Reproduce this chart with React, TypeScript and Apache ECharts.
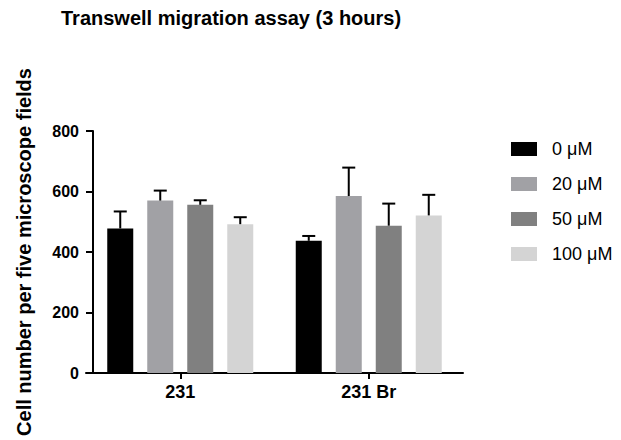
import React, { useEffect, useRef } from "react";
import * as echarts from "echarts";

const categories = ["231", "231 Br"];
const seriesNames = ["0 \u03bcM", "20 \u03bcM", "50 \u03bcM", "100 \u03bcM"];
const colors = ["#000000", "#a1a1a5", "#808080", "#d4d4d4"];
const means0 = [478, 437];
const means20 = [570, 585];
const means50 = [556, 487];
const means100 = [492, 521];
const err0 = [56, 16];
const err20 = [33, 94];
const err50 = [15, 73];
const err100 = [23, 68];
const yTicks = [0, 200, 400, 600, 800];

const meansAll = [means0, means20, means50, means100];
const errAll = [err0, err20, err50, err100];

const FONT = "'Liberation Sans', Arial, Helvetica, sans-serif";
const BAR_W = 26;
const BAR_GAP = 14;

export default function App() {
  const ref = useRef<HTMLDivElement>(null);
  useEffect(() => {
    if (!ref.current) return;
    const chart = echarts.init(ref.current, null, { renderer: "svg" });
    const errData: number[][] = [];
    meansAll.forEach((m, s) => {
      m.forEach((v, c) => errData.push([c, v, errAll[s][c], s]));
    });
    const n = seriesNames.length;
    const barSeries = seriesNames.map((name, i) => ({
      name,
      type: "bar",
      data: meansAll[i],
      barWidth: BAR_W,
      barGap: (BAR_GAP / BAR_W) * 100 + "%",
      itemStyle: { color: colors[i] },
      z: 2,
    }));
    chart.setOption({
      animation: false,
      backgroundColor: "#ffffff",
      title: {
        text: "Transwell migration assay (3 hours)",
        left: 56,
        top: 3,
        textStyle: { fontFamily: FONT, fontWeight: "bold", fontSize: 20, color: "#000" },
      },
      legend: {
        orient: "vertical",
        left: 506,
        top: 135,
        itemWidth: 26,
        itemHeight: 14,
        itemGap: 17,
        data: seriesNames,
        icon: "rect",
        textStyle: { fontFamily: FONT, fontSize: 18, color: "#000", padding: [0, 0, 0, 10] },
      },
      grid: { left: 86, right: 158, top: 131, bottom: 67, containLabel: false },
      xAxis: {
        type: "category",
        data: categories,
        axisLine: { show: true, lineStyle: { color: "#000", width: 2 } },
        axisTick: { show: true, alignWithLabel: true, length: 6, lineStyle: { color: "#000", width: 2 } },
        axisLabel: { fontFamily: FONT, fontWeight: "bold", fontSize: 18, color: "#000", margin: 10 },
      },
      yAxis: {
        type: "value",
        min: yTicks[0],
        max: yTicks[yTicks.length - 1],
        interval: yTicks[1] - yTicks[0],
        offset: -7,
        name: "Cell number per five microscope fields",
        nameLocation: "middle",
        nameRotate: 90,
        nameGap: 59,
        nameTextStyle: { fontFamily: FONT, fontWeight: "bold", fontSize: 20, color: "#000" },
        axisLine: { show: true, lineStyle: { color: "#000", width: 2 } },
        axisTick: { show: true, length: 7, lineStyle: { color: "#000", width: 2 } },
        axisLabel: { fontFamily: FONT, fontWeight: "bold", fontSize: 16, color: "#000", margin: 14 },
        splitLine: { show: false },
      },
      series: [
        ...barSeries,
        {
          type: "custom",
          name: "errors",
          data: errData,
          encode: { x: 0, y: 1 },
          z: 3,
          renderItem: (params: any, api: any) => {
            const cat = api.value(0);
            const mean = api.value(1);
            const sd = api.value(2);
            const s = api.value(3);
            const p0 = api.coord([cat, mean]);
            const p1 = api.coord([cat, mean + sd]);
            const x = p0[0] + (s - (n - 1) / 2) * (BAR_W + BAR_GAP);
            const half = BAR_W / 4;
            const style = { stroke: "#000", lineWidth: 2 };
            return {
              type: "group",
              children: [
                { type: "line", shape: { x1: x, y1: p0[1], x2: x, y2: p1[1] }, style },
                { type: "line", shape: { x1: x - half, y1: p1[1], x2: x + half, y2: p1[1] }, style },
              ],
            };
          },
        },
      ],
    });
    return () => chart.dispose();
  }, []);
  return <div ref={ref} style={{ position: "fixed", left: 0, top: 0, width: 621, height: 440 }} />;
}
